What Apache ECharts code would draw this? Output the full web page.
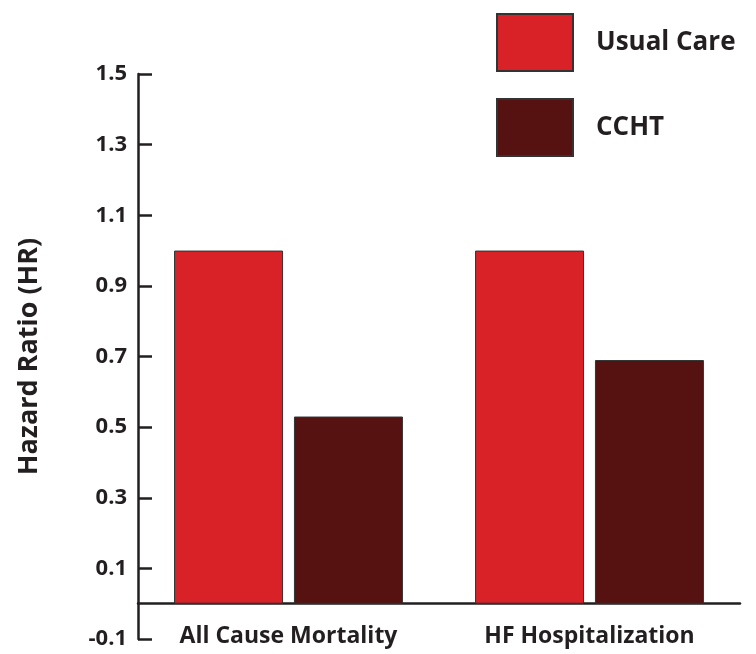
<!DOCTYPE html>
<html>
<head>
<meta charset="utf-8">
<script src="https://cdn.jsdelivr.net/npm/echarts@6/dist/echarts.min.js"></script>
<style>html,body{margin:0;padding:0;background:#fff}#c{width:756px;height:654px}</style>
</head>
<body>
<div id="c"></div>
<script>
var categories = ['All Cause Mortality', 'HF Hospitalization'];
var usualCare = [1.0, 1.0];
var ccht = [0.53, 0.69];
var yTicks = [-0.1, 0.1, 0.3, 0.5, 0.7, 0.9, 1.1, 1.3, 1.5];
var seriesNames = ['Usual Care', 'CCHT'];

var ink = '#231f20';
var font = 'Open Sans';
var chart = echarts.init(document.getElementById('c'));
chart.setOption({
  animation: false,
  grid: { left: 138, right: 16, top: 74, bottom: 15, containLabel: false, outerBoundsMode: 'none' },
  legend: {
    orient: 'vertical', left: 491, top: 8,
    itemWidth: 76, itemHeight: 57, itemGap: 26,
    icon: 'rect',
    data: seriesNames,
    textStyle: { fontFamily: font, fontWeight: 'bold', fontSize: 26, color: ink, padding: [0, 0, 0, 18] }
  },
  xAxis: [{
    type: 'category', data: categories,
    axisLine: { onZero: true, lineStyle: { color: ink, width: 2.5 } },
    axisTick: { inside: true, length: 13, lineStyle: { color: ink, width: 2.5 } },
    axisLabel: { show: false }
  }, {
    type: 'category', data: categories, position: 'bottom',
    axisLine: { show: false, onZero: false },
    axisTick: { show: false },
    axisLabel: { margin: -14, fontFamily: font, fontWeight: 'bold', fontSize: 23, color: ink,
      verticalAlign: 'top', interval: 0 }
  }],
  yAxis: {
    type: 'value', min: -0.1, max: 1.5,
    name: 'Hazard Ratio (HR)', nameLocation: 'middle', nameRotate: 90, nameGap: 95,
    nameTextStyle: { fontFamily: font, fontWeight: 'bold', fontSize: 27, color: ink },
    splitLine: { show: false },
    axisLine: { show: true, lineStyle: { color: ink, width: 2.5 } },
    axisTick: { show: true, inside: true, length: 14, customValues: yTicks, lineStyle: { color: ink, width: 2.5 } },
    axisLabel: { margin: 11, fontFamily: font, fontWeight: 'bold', fontSize: 22, color: ink, customValues: yTicks,
      formatter: function (v) { return v.toFixed(1); } }
  },
  series: [
    { name: seriesNames[0], type: 'bar', data: usualCare, barWidth: 109, barGap: '10%', xAxisIndex: 0,
      itemStyle: { color: '#d82228', borderColor: '#333', borderWidth: 1 } },
    { name: seriesNames[1], type: 'bar', data: ccht, barWidth: 109, xAxisIndex: 0,
      itemStyle: { color: '#561111', borderColor: '#333', borderWidth: 1 } }
  ]
});
</script>
</body>
</html>
